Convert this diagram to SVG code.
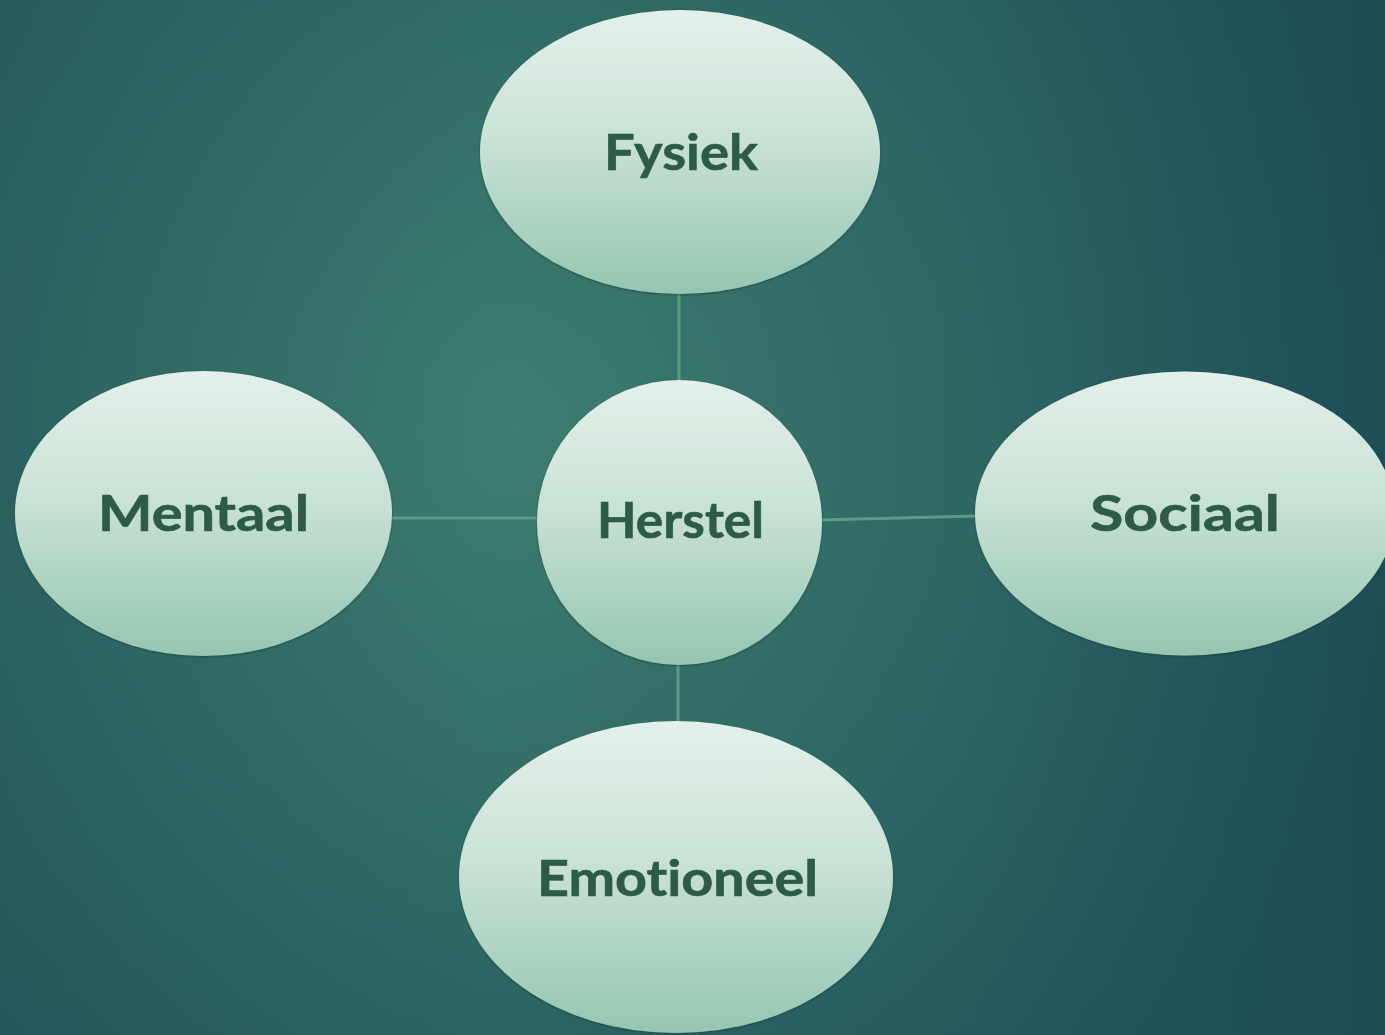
<svg xmlns="http://www.w3.org/2000/svg" width="1385" height="1035" viewBox="0 0 1385 1035">
  <defs>
    <radialGradient id="bgGlow" cx="520" cy="430" r="900" gradientUnits="userSpaceOnUse">
      <stop offset="0" stop-color="#3e7d70"/>
      <stop offset="0.45" stop-color="#316d67"/>
      <stop offset="1" stop-color="#22555c"/>
    </radialGradient>
    <linearGradient id="bgShade" x1="0" y1="0" x2="1" y2="0">
      <stop offset="0" stop-color="#214f55" stop-opacity="0.25"/>
      <stop offset="0.35" stop-color="#214f55" stop-opacity="0"/>
      <stop offset="0.7" stop-color="#1b4652" stop-opacity="0.1"/>
      <stop offset="1" stop-color="#173f4d" stop-opacity="0.4"/>
    </linearGradient>
    <linearGradient id="bubble" x1="0" y1="0" x2="0" y2="1">
      <stop offset="0" stop-color="#e4f0ea"/>
      <stop offset="0.45" stop-color="#c9e2d6"/>
      <stop offset="1" stop-color="#95c6b2"/>
    </linearGradient>
    <filter id="soft" x="-10%" y="-10%" width="120%" height="120%">
      <feDropShadow dx="0" dy="1" stdDeviation="1.2" flood-color="#1c3e38" flood-opacity="0.7"/>
    </filter>
  </defs>
  <style>
    .node ellipse { fill: url(#bubble); filter: url(#soft); }
    .node text { font-family: "Lato", "Open Sans", "Liberation Sans", sans-serif; font-weight: 700; font-size: 50px; fill: #2d5b46; stroke: #2d5b46; stroke-width: 0.6; text-anchor: middle; font-variant-ligatures: none; }
    .link { stroke: #5c9c82; stroke-width: 3; fill: none; }
  </style>

  <!-- background -->
  <rect width="1385" height="1035" fill="url(#bgGlow)"/>
  <rect width="1385" height="1035" fill="url(#bgShade)"/>

  <!-- connectors -->
  <g id="connectors">
    <line class="link" x1="679" y1="290" x2="679" y2="384"/>
    <line class="link" x1="389" y1="518" x2="540" y2="518"/>
    <line class="link" x1="819" y1="520" x2="978" y2="516"/>
    <line class="link" x1="678" y1="662" x2="678" y2="724"/>
  </g>

  <g id="node-fysiek" class="node">
    <ellipse cx="680" cy="152" rx="200" ry="142"/>
    <text x="681" y="170" textLength="154" lengthAdjust="spacingAndGlyphs">Fysiek</text>
  </g>

  <g id="node-herstel" class="node">
    <ellipse cx="679.5" cy="522.5" rx="142.5" ry="142.5"/>
    <text x="680.5" y="538" textLength="167" lengthAdjust="spacingAndGlyphs">Herstel</text>
  </g>

  <g id="node-mentaal" class="node">
    <ellipse cx="203.5" cy="513.5" rx="188.5" ry="142.5"/>
    <text x="203.5" y="531" textLength="211" lengthAdjust="spacingAndGlyphs">Mentaal</text>
  </g>

  <g id="node-sociaal" class="node">
    <ellipse cx="1185" cy="513.5" rx="210" ry="142"/>
    <text x="1185" y="531" textLength="190" lengthAdjust="spacingAndGlyphs">Sociaal</text>
  </g>

  <g id="node-emotioneel" class="node">
    <ellipse cx="676" cy="877" rx="217" ry="156"/>
    <text x="677.5" y="896" textLength="281" lengthAdjust="spacingAndGlyphs">Emotioneel</text>
  </g>
</svg>
